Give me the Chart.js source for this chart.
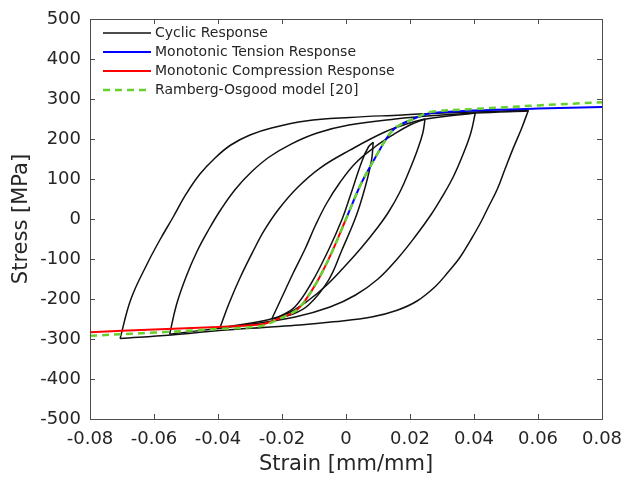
<!DOCTYPE html>
<html>
<head>
<meta charset="utf-8">
<script src="https://cdn.jsdelivr.net/npm/chart.js@4/dist/chart.umd.min.js"></script>
<style>
  html, body { margin: 0; padding: 0; background: #fff; }
  canvas { display: block; }
</style>
</head>
<body>
<canvas id="myChart" width="624" height="477"></canvas>
<script>
// axis ticks
const strainTicks = [-0.08, -0.06, -0.04, -0.02, 0, 0.02, 0.04, 0.06, 0.08];
const strainLabels = ['-0.08', '-0.06', '-0.04', '-0.02', '0', '0.02', '0.04', '0.06', '0.08'];
const stressTicks = [-500, -400, -300, -200, -100, 0, 100, 200, 300, 400, 500];

// cyclic response, branch by branch
const a0Strain = [-0.0210, -0.0160, -0.0108, -0.0055, -0.0012, 0.0012, 0.0050, 0.0070, 0.0085];
const a0Stress = [-245, -220, -160, -78, 0, 55, 145, 180, 192];
const d1Strain = [0.0085, 0.0080, 0.0060, 0.0032, -0.0013, -0.0054, -0.0117, -0.0167, -0.0232];
const d1Stress = [192, 148, 80, 8, -78, -152, -215, -238, -250];
const a1Strain = [-0.0232, -0.0200, -0.0165, -0.0128, -0.0095, -0.0060, -0.0020, 0.0030, 0.0090, 0.0150, 0.0200, 0.0247];
const a1Stress = [-250, -195, -135, -75, -15, 40, 90, 140, 180, 212, 235, 250];
const d2Strain = [0.0247, 0.0240, 0.0222, 0.0200, 0.0170, 0.0135, 0.0100, 0.0050, 0.0000, -0.0060, -0.0120, -0.0180, -0.0250, -0.0394];
const d2Stress = [250, 215, 170, 125, 70, 20, -20, -70, -115, -165, -205, -235, -253, -272];
const a2Strain = [-0.0394, -0.0365, -0.0330, -0.0290, -0.0255, -0.0210, -0.0150, -0.0080, 0.0012, 0.0123, 0.0200, 0.0250, 0.0404];
const a2Stress = [-272, -210, -145, -80, -28, 25, 80, 128, 172, 218, 240, 250, 265];
const d3Strain = [0.0404, 0.0390, 0.0365, 0.0335, 0.0300, 0.0265, 0.0220, 0.0160, 0.0100, 0.0030, -0.0050, -0.0159, -0.0300, -0.0551];
const d3Stress = [265, 215, 160, 105, 55, 10, -40, -100, -150, -190, -220, -245, -263, -288];
const a3Strain = [-0.0551, -0.0530, -0.0500, -0.0465, -0.0428, -0.0390, -0.0345, -0.0295, -0.0240, -0.0170, -0.0090, 0.0009,
                  0.0154, 0.0300, 0.0404, 0.0570];
const a3Stress = [-288, -215, -145, -80, -25, 25, 75, 118, 155, 188, 215, 235,
                  250, 260, 265, 270];
const d4Strain = [0.0570, 0.0548, 0.0522, 0.0497, 0.0473, 0.0445, 0.0420, 0.0390, 0.0357, 0.0320, 0.0280, 0.0222, 0.0160, 0.0080,
                  -0.0040, -0.0144, -0.0258, -0.0397, -0.0546, -0.0706];
const d4Stress = [272, 225, 176, 125, 75, 30, -10, -52, -95, -132, -168, -205, -228, -245,
                  -257, -265, -271, -279, -290, -299];
const a4Strain = [-0.0706, -0.0672, -0.0620, -0.0580, -0.0540, -0.0500, -0.0457, -0.0410, -0.0360, -0.0300, -0.0230, -0.0126,
                  0.0012, 0.0176, 0.0300, 0.0450, 0.0570];
const a4Stress = [-299, -200, -110, -50, 5, 62, 112, 152, 185, 210, 228, 245,
                  254, 260, 265, 269, 272];

// monotonic curves
const tensionStrain = [0, 0.0047, 0.0089, 0.0131, 0.0152, 0.0173, 0.0204, 0.0225, 0.0267, 0.04, 0.06, 0.08];
const tensionStress = [0, 88, 150, 207, 226, 237, 248, 255, 265, 271, 276, 280];
const compStrain = [0, -0.0047, -0.0089, -0.0131, -0.0152, -0.0173, -0.0204, -0.0225, -0.0267, -0.04, -0.06, -0.08];
const compStress = [0, -88, -155, -208, -226, -237, -247, -254, -264, -270, -276, -283];
const roStrain = [-0.08, -0.06, -0.04, -0.0267, -0.0225, -0.0204, -0.0173, -0.0152, -0.0131, -0.0089, -0.0047, 0,
                  0.0047, 0.0089, 0.0131, 0.0152, 0.0173, 0.0204, 0.0225, 0.0267, 0.04, 0.06, 0.08];
const roStress = [-292, -284, -275, -268, -256, -248, -237, -226, -208, -155, -88, 0,
                  88, 150, 207, 226, 237, 248, 256, 268, 275, 284, 292];

const pts = (xs, ys) => xs.map((x, i) => ({x: x, y: ys[i]}));

const cyclicBranches = [
  [a0Strain, a0Stress], [d1Strain, d1Stress], [a1Strain, a1Stress], [d2Strain, d2Stress],
  [a2Strain, a2Stress], [d3Strain, d3Stress], [a3Strain, a3Stress], [d4Strain, d4Stress],
  [a4Strain, a4Stress]
];

const datasets = cyclicBranches.map(b => ({
  label: 'Cyclic Response',
  data: pts(b[0], b[1]),
  borderColor: '#111111',
  borderWidth: 1.5,
  tension: 0.4,
  order: 4
}));
datasets.push({
  label: 'Monotonic Tension Response',
  data: pts(tensionStrain, tensionStress),
  borderColor: '#0000ff', borderWidth: 2, tension: 0.35, order: 3
});
datasets.push({
  label: 'Monotonic Compression Response',
  data: pts(compStrain, compStress),
  borderColor: '#ff0000', borderWidth: 2, tension: 0.35, order: 2
});
datasets.push({
  label: 'Ramberg-Osgood model [20]',
  data: pts(roStrain, roStress),
  borderColor: '#66d12e', borderWidth: 2.5, borderDash: [7, 5], tension: 0.35, order: 1
});
datasets.forEach(d => { d.showLine = true; d.pointRadius = 0; d.fill = false; });

const legendItems = [
  {text: 'Cyclic Response', color: '#111111', width: 1.5, dash: []},
  {text: 'Monotonic Tension Response', color: '#0000ff', width: 2, dash: []},
  {text: 'Monotonic Compression Response', color: '#ff0000', width: 2, dash: []},
  {text: 'Ramberg-Osgood model [20]', color: '#66d12e', width: 2.5, dash: [7, 5]}
];

// box with inward ticks, and the legend inside the plot
const framePlugin = {
  id: 'frame',
  afterDatasetsDraw(chart) {
    const {ctx, chartArea: a, scales: {x, y}} = chart;
    ctx.save();
    ctx.strokeStyle = '#4d4d4d';
    ctx.lineWidth = 1;
    ctx.strokeRect(a.left + 0.5, a.top + 0.5, a.right - a.left, a.bottom - a.top);
    ctx.beginPath();
    strainTicks.forEach(v => {
      const px = Math.round(x.getPixelForValue(v)) + 0.5;
      ctx.moveTo(px, a.bottom); ctx.lineTo(px, a.bottom - 5);
      ctx.moveTo(px, a.top); ctx.lineTo(px, a.top + 5);
    });
    stressTicks.forEach(v => {
      const py = Math.round(y.getPixelForValue(v)) + 0.5;
      ctx.moveTo(a.left, py); ctx.lineTo(a.left + 5, py);
      ctx.moveTo(a.right, py); ctx.lineTo(a.right - 5, py);
    });
    ctx.stroke();

    ctx.font = '14px "DejaVu Sans"';
    ctx.textBaseline = 'middle';
    ctx.fillStyle = '#262626';
    legendItems.forEach((it, i) => {
      const ly = a.top + 14 + i * 19;
      ctx.beginPath();
      ctx.strokeStyle = it.color;
      ctx.lineWidth = it.width;
      ctx.setLineDash(it.dash);
      ctx.moveTo(a.left + 13, ly); ctx.lineTo(a.left + 61, ly);
      ctx.stroke();
      ctx.setLineDash([]);
      ctx.fillText(it.text, a.left + 65, ly);
    });
    ctx.restore();
  }
};

const tickFont = {family: 'DejaVu Sans', size: 18};
const titleFont = {family: 'DejaVu Sans', size: 21};

new Chart(document.getElementById('myChart'), {
  type: 'scatter',
  data: {datasets: datasets},
  options: {
    responsive: false,
    animation: false,
    layout: {padding: {top: 19, right: 22, left: 0, bottom: 0}},
    scales: {
      x: {
        type: 'linear', min: -0.08, max: 0.08,
        afterBuildTicks: s => { s.ticks = strainTicks.map(v => ({value: v})); },
        afterFit: s => { s.height = 58; s.paddingLeft = 0; s.paddingRight = 0; },
        grid: {display: false, drawTicks: false},
        border: {display: false},
        ticks: {font: tickFont, color: '#262626', padding: 10, maxRotation: 0, autoSkip: false,
                callback: (v, i) => strainLabels[i]},
        title: {display: true, text: 'Strain [mm/mm]', font: titleFont, color: '#262626', padding: {top: 0, bottom: 0}}
      },
      y: {
        type: 'linear', min: -500, max: 500,
        afterBuildTicks: s => { s.ticks = stressTicks.map(v => ({value: v})); },
        afterFit: s => { s.width = 90; s.paddingTop = 0; s.paddingBottom = 0; },
        grid: {display: false, drawTicks: false},
        border: {display: false},
        ticks: {font: tickFont, color: '#262626', padding: 9, autoSkip: false,
                callback: v => String(v)},
        title: {display: true, text: 'Stress [MPa]', font: titleFont, color: '#262626', padding: {top: 9, bottom: 0}}
      }
    },
    plugins: {legend: {display: false}, tooltip: {enabled: false}}
  },
  plugins: [framePlugin]
});
</script>
</body>
</html>
